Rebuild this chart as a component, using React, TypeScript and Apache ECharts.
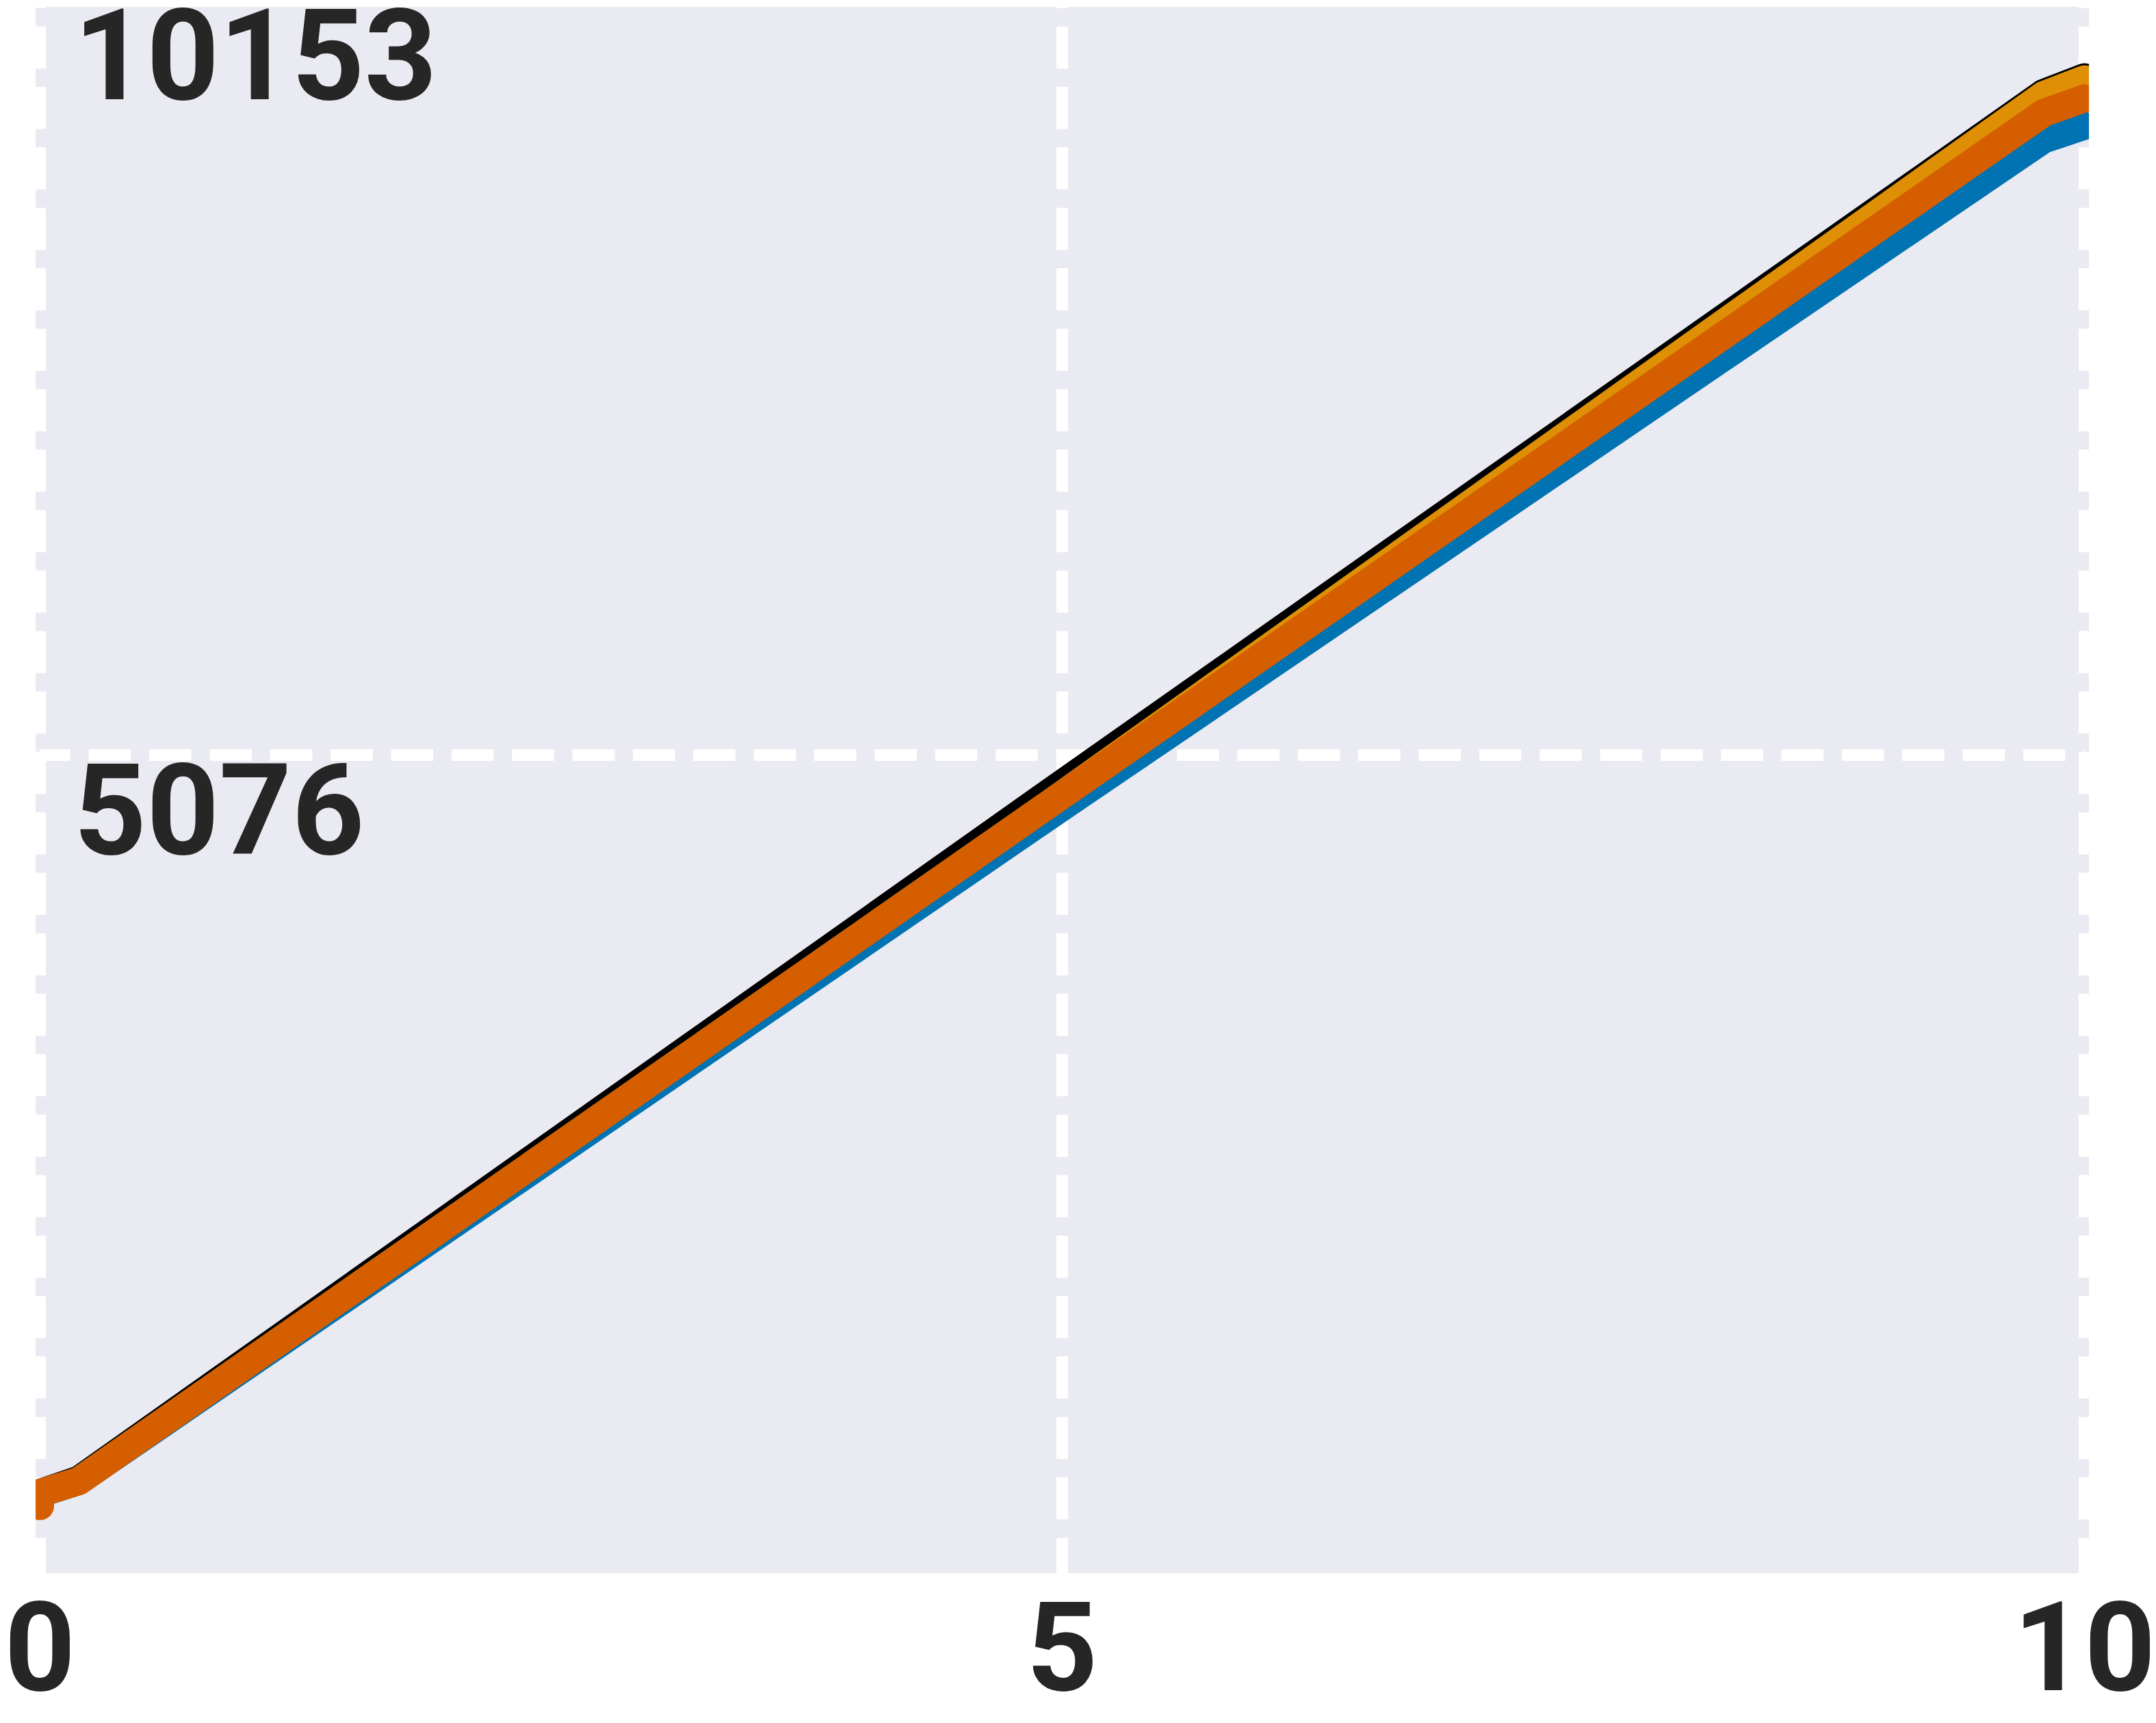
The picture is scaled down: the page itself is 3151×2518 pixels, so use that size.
import React, { useEffect, useRef } from "react";
import * as echarts from "echarts";

// ---- data ----
const xTicks = [0, 5, 10];
const yTicks = [5076, 10153];
const yMin = -453;
const yMax = 10153;

const xPoints = [0, 0.19, 5, 9.8, 10];
const blackValues = [88, 178, 4881, 9545, 9651];
const goldValues = [85, 169, 4805, 9531, 9637];
const blueValues = [85, 170, 4722, 9231, 9323];
const vermillionValues = [88, 169, 4803, 9410, 9508];
const vermillionStart = [0, 0];

const seriesNames = ["black", "gold", "blue", "vermillion"];
const seriesColors = ["#000000", "#DE8F05", "#0173B2", "#D55E00"];

const pairs = (vals: number[]) => xPoints.map((x, i) => [x, vals[i]]);

const FONT = {
  fontFamily: "Roboto, 'Noto Sans', sans-serif",
  fontWeight: "bold" as const,
  fontSize: 185,
  color: "#262626",
};

const DASH = [61.5, 26.85];

export default function App() {
  const ref = useRef<HTMLDivElement>(null);
  useEffect(() => {
    document.body.style.margin = "0";
    if (!ref.current) return;
    const chart = echarts.init(ref.current, undefined, { renderer: "svg" });
    const seriesData = [
      pairs(blackValues),
      pairs(goldValues),
      pairs(blueValues),
      [vermillionStart, ...pairs(vermillionValues)],
    ];
    const option: any = {
      animation: false,
      backgroundColor: "#ffffff",
      grid: {
        left: 58.5,
        right: 104.5,
        top: 4.3,
        bottom: 219,
        containLabel: false,
        outerBoundsMode: "none",
      },
      graphic: [
        {
          type: "rect",
          z: -10,
          shape: { x: 65, y: 10, width: 2975, height: 2289 },
          style: { fill: "#EAEAF2" },
        },
        {
          type: "rect",
          z: 100,
          shape: { x: 0, y: 0, width: 52, height: 2320 },
          style: { fill: "#ffffff" },
        },
        {
          type: "rect",
          z: 100,
          shape: { x: 3053, y: 0, width: 98, height: 2320 },
          style: { fill: "#ffffff" },
        },
      ],
      xAxis: [
        {
          type: "value",
          min: xTicks[0],
          max: xTicks[xTicks.length - 1],
          interval: 5,
          axisLine: { show: false, onZero: false },
          axisTick: { show: false },
          axisLabel: {
            ...FONT,
            fontSize: 181,
            lineHeight: 146,
            margin: 36,
            formatter: (v: number) => String(v),
          },
          splitLine: {
            show: true,
            lineStyle: { color: "#ffffff", width: 17, type: DASH, dashOffset: 53.65 },
          },
        },
        {
          type: "value",
          position: "top",
          min: xTicks[0],
          max: xTicks[xTicks.length - 1],
          interval: 5,
          z: -5,
          axisLine: { show: false },
          axisTick: { show: false },
          axisLabel: { show: false },
          splitLine: { show: true, lineStyle: { color: "#EAEAF2", width: 13, type: "solid" } },
        },
      ],
      yAxis: {
        type: "value",
        min: yMin,
        max: yMax,
        axisLine: { show: false },
        axisTick: { show: false, customValues: yTicks },
        axisLabel: {
          ...FONT,
          inside: true,
          margin: 49.5,
          align: "left",
          verticalAlign: "top",
          customValues: yTicks,
          formatter: (v: number) =>
            v === yTicks[yTicks.length - 1] ? `{hi|${Math.round(v)}}` : `{lo|${Math.round(v)}}`,
          rich: {
            hi: { ...FONT, lineHeight: 154 },
            lo: { ...FONT, lineHeight: 163 },
          },
        },
        splitLine: {
          show: true,
          lineStyle: {
            color: ["#ffffff", "rgba(0,0,0,0)"],
            width: 17,
            type: DASH,
            dashOffset: 16.5,
          },
        },
      },
      series: seriesData.map((d, i) => ({
        name: seriesNames[i],
        type: "line",
        data: d,
        showSymbol: false,
        symbol: "none",
        clip: false,
        lineStyle: { color: seriesColors[i], width: 41, cap: "round", join: "round" },
      })),
    };
    chart.setOption(option);
    return () => chart.dispose();
  }, []);
  return <div ref={ref} style={{ width: 3151, height: 2518 }} />;
}
